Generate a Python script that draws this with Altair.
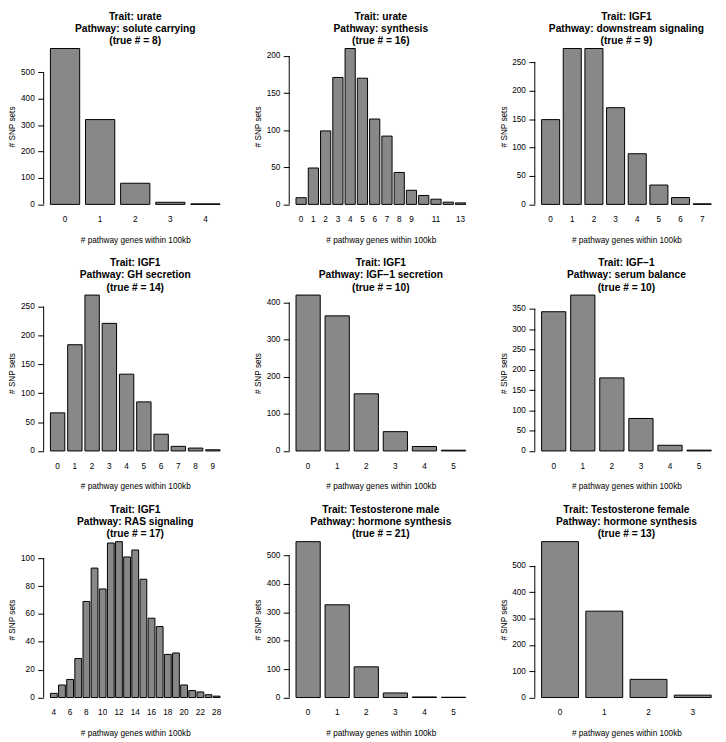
import altair as alt
import pandas as pd

FONT = "Liberation Sans"

# ---- panel texts ----
traits = ["urate", "urate", "IGF1", "IGF1", "IGF1", "IGF\u22121", "IGF1",
          "Testosterone male", "Testosterone female"]
pathways = ["solute carrying", "synthesis", "downstream signaling", "GH secretion",
            "IGF\u22121 secretion", "serum balance", "RAS signaling",
            "hormone synthesis", "hormone synthesis"]
true_counts = [8, 16, 9, 14, 10, 10, 17, 21, 13]

# ---- bar data: number of pathway genes within 100kb -> number of SNP sets ----
genes_1 = [0, 1, 2, 3, 4]
sets_1 = [590, 321, 80, 8, 2]
genes_2 = [0, 1, 2, 3, 4, 5, 6, 7, 8, 9, 10, 11, 12, 13]
sets_2 = [9, 49, 99, 171, 210, 170, 115, 92, 43, 19, 12, 7, 3, 2]
genes_3 = [0, 1, 2, 3, 4, 5, 6, 7]
sets_3 = [149, 274, 274, 170, 89, 34, 12, 1]
genes_4 = [0, 1, 2, 3, 4, 5, 6, 7, 8, 9]
sets_4 = [66, 184, 270, 221, 133, 85, 29, 8, 5, 2]
genes_5 = [0, 1, 2, 3, 4, 5]
sets_5 = [420, 364, 154, 52, 12, 2]
genes_6 = [0, 1, 2, 3, 4, 5]
sets_6 = [343, 384, 180, 80, 14, 2]
genes_7 = [4, 5, 6, 7, 8, 9, 10, 11, 12, 13, 14, 15, 16, 17, 18, 19, 20, 21, 22, 24, 28]
sets_7 = [3, 9, 13, 28, 69, 93, 78, 111, 112, 101, 106, 85, 57, 51, 31, 32, 9, 5, 4, 2, 1]
genes_8 = [0, 1, 2, 3, 4, 5]
sets_8 = [548, 326, 108, 16, 2, 1]
genes_9 = [0, 1, 2, 3]
sets_9 = [592, 328, 69, 9]

# ---- axis tick labels ----
yticks_1 = [0, 100, 200, 300, 400, 500]
yticks_2 = [0, 50, 100, 150, 200]
yticks_3 = [0, 50, 100, 150, 200, 250]
yticks_4 = [0, 50, 100, 150, 200, 250]
yticks_5 = [0, 100, 200, 300, 400]
yticks_6 = [0, 50, 100, 150, 200, 250, 300, 350]
yticks_7 = [0, 20, 40, 60, 80, 100]
yticks_8 = [0, 100, 200, 300, 400, 500]
yticks_9 = [0, 100, 200, 300, 400, 500]

xlabels_2 = [0, 1, 2, 3, 4, 5, 6, 7, 8, 9, 11, 13]
xlabels_7 = [4, 6, 8, 10, 12, 14, 16, 18, 20, 22, 28]

GENES = [genes_1, genes_2, genes_3, genes_4, genes_5, genes_6, genes_7, genes_8, genes_9]
SETS = [sets_1, sets_2, sets_3, sets_4, sets_5, sets_6, sets_7, sets_8, sets_9]
YTICKS = [yticks_1, yticks_2, yticks_3, yticks_4, yticks_5, yticks_6, yticks_7, yticks_8, yticks_9]
XLABELS = [genes_1, xlabels_2, genes_3, genes_4, genes_5, genes_6, xlabels_7, genes_8, genes_9]

W = 185
H = 170


def panel(i):
    genes = [str(g) for g in GENES[i]]
    df = pd.DataFrame({"genes": genes, "sets": SETS[i]})
    n = len(genes)
    m = max(SETS[i])
    po = 0.04 * (1.2 * n - 0.2) / 1.2
    x = alt.X(
        "genes:O", sort=genes,
        scale=alt.Scale(paddingInner=1 / 6, paddingOuter=po),
        axis=alt.Axis(
            values=[str(v) for v in XLABELS[i]], ticks=False, tickSize=0, domain=False,
            labelAngle=0, labelFont=FONT, labelFontSize=8.3, labelColor="black",
            labelPadding=4, labelOverlap=False,
            title="# pathway genes within 100kb", titleFont=FONT, titleFontSize=8.3,
            titleFontWeight="normal", titleColor="black",
            titleX=W / 2, titleY=30, titleBaseline="middle",
        ),
    )
    y = alt.Y(
        "sets:Q",
        scale=alt.Scale(domain=[-0.04 * m, 1.04 * m], nice=False, zero=False),
        axis=alt.Axis(
            values=YTICKS[i], tickCount=50, domain=False, grid=False, ticks=True,
            tickSize=6, tickColor="black", tickWidth=1, labelOverlap=False,
            labelFont=FONT, labelFontSize=8.3, labelColor="black", labelPadding=3.5,
            title="# SNP sets", titleFont=FONT, titleFontSize=8.3,
            titleFontWeight="normal", titleColor="black",
            titleX=-31, titleY=H / 2, titleBaseline="middle",
        ),
    )
    bars = alt.Chart(df).mark_bar(fill="#888888", stroke="black", strokeWidth=1).encode(
        x=x, y=y, y2=alt.datum(0)
    )
    axis_line = alt.Chart(pd.DataFrame({"lo": [0]})).mark_rule(
        color="black", strokeWidth=1
    ).encode(x=alt.value(0), y=alt.datum(YTICKS[i][0]), y2=alt.datum(YTICKS[i][-1]))
    return alt.layer(bars, axis_line).properties(
        width=W,
        height=H,
        title=alt.TitleParams(
            text=["Trait: " + traits[i], "Pathway: " + pathways[i],
                  "(true # = " + str(true_counts[i]) + ")"],
            font=FONT, fontSize=10.3, fontWeight="bold", color="black",
            lineHeight=12.3, anchor="middle", frame="group", offset=-14,
            baseline="bottom",
        ),
    )


chart = alt.concat(
    *[panel(i) for i in range(9)],
    columns=3,
    spacing={"row": 79, "column": 63},
    bounds="flush",
).properties(
    padding={"left": 0, "top": 0, "right": 0, "bottom": 0}
).configure_view(stroke=None)

chart.save("out.html", embed_options={"renderer": "svg", "actions": False})
